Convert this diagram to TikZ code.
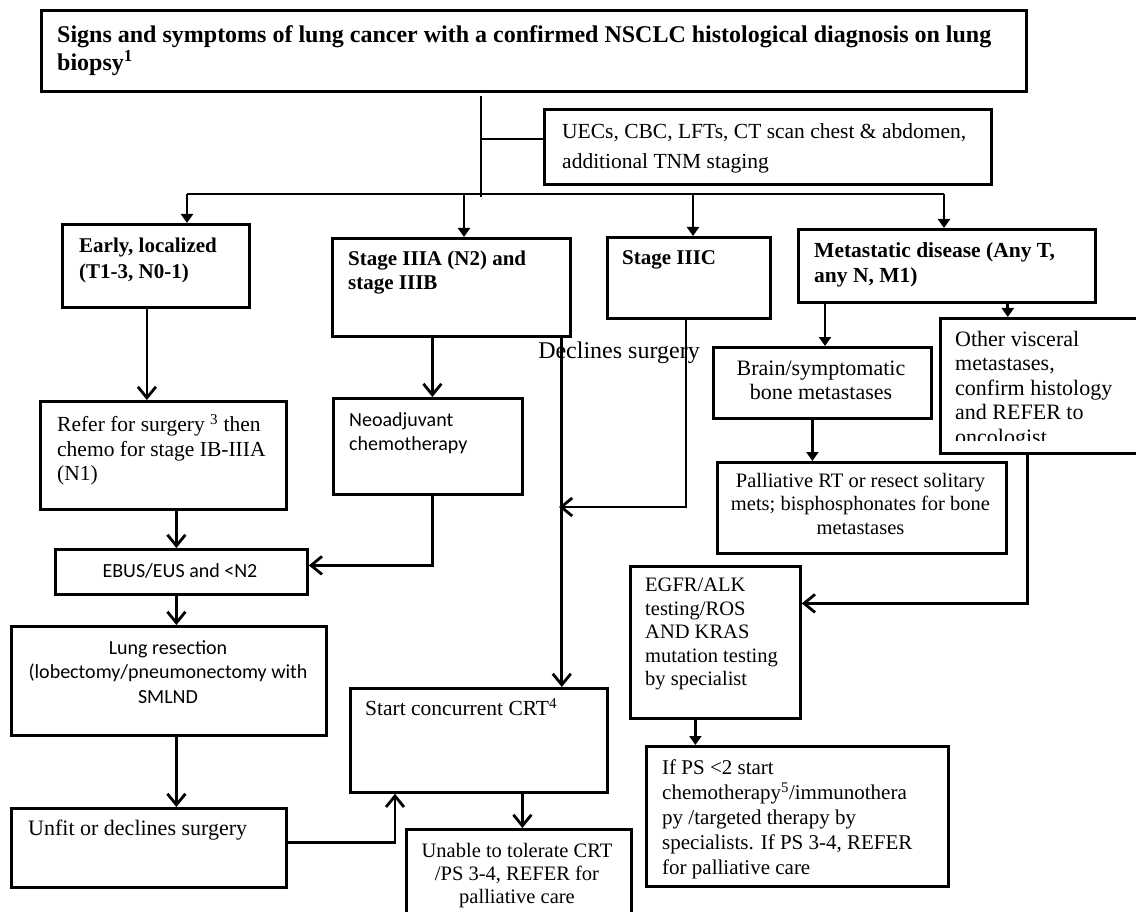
\documentclass[tikz,border=0pt]{standalone}
\usepackage{fontspec}
\setmainfont{Liberation Serif}
\newfontfamily\sansf{Carlito}
\usetikzlibrary{arrows.meta}
\tikzset{
  box/.style={draw, line width=2.8pt, inner sep=0pt, anchor=north west},
  ln/.style={line width=2.8pt},
  tri/.style={ln, -{Triangle[length=9pt,width=12pt]}},
  barb/.style={ln, -{Straight Barb[length=11pt,width=18pt]}},
  txt/.style={inner sep=0pt, anchor=north west, align=left},
  ctxt/.style={inner sep=0pt, anchor=north, align=center},
  ft/.style={font={\fontsize{24}{28}\selectfont\bfseries}},
  fb/.style={font={\fontsize{21}{25}\selectfont\bfseries}},
  fr/.style={font={\fontsize{21}{24.5}\selectfont}},
  fs/.style={font={\fontsize{20}{24.5}\selectfont\sansf}},
}
\begin{document}
\begin{tikzpicture}[x=1pt,y=-1pt]
\path[use as bounding box] (0,0) rectangle (1136,912);
\clip (0,0) rectangle (1136,912);

% boxes
\node[box, minimum width=985pt, minimum height=81pt] (title) at (40,9) {};
\node[box, minimum width=447pt, minimum height=75pt] (uec) at (543,108) {};
\node[box, minimum width=187pt, minimum height=83pt] (early) at (61,223) {};
\node[box, minimum width=238pt, minimum height=98pt] (s3a) at (331,237) {};
\node[box, minimum width=163pt, minimum height=81pt] (s3c) at (606,236) {};
\node[box, minimum width=297pt, minimum height=73pt] (met) at (797,228) {};
\node[box, minimum width=246pt, minimum height=108pt] (refer) at (39,400) {};
\node[box, minimum width=189pt, minimum height=96pt] (neo) at (332,397) {};
\node[box, minimum width=218pt, minimum height=71pt] (brain) at (712,346) {};
\node[box, minimum width=210pt, minimum height=135pt] (other) at (939,317) {};
\node[box, minimum width=289pt, minimum height=91pt] (pall) at (716,461) {};
\node[box, minimum width=252pt, minimum height=45pt] (ebus) at (54,548) {};
\node[box, minimum width=170pt, minimum height=152pt] (egfr) at (629,565) {};
\node[box, minimum width=315pt, minimum height=109pt] (lung) at (10,625) {};
\node[box, minimum width=257pt, minimum height=104pt] (crt) at (349,687) {};
\node[box, minimum width=302pt, minimum height=140pt] (ifps) at (645,745) {};
\node[box, minimum width=275pt, minimum height=79pt] (unfit) at (10,807) {};
\node[box, minimum width=225pt, minimum height=100pt] (unable) at (405,828) {};

% texts
\node[txt, ft] (titlet) at (57,25) {Signs and symptoms of lung cancer with a confirmed NSCLC histological diagnosis on lung\\biopsy\textsuperscript{1}};
\node[txt, font={\fontsize{21.5}{30}\selectfont}] (uect) at (562,123) {UECs, CBC, LFTs, CT scan chest \& abdomen,\\additional TNM staging};
\node[txt, font={\fontsize{21}{26}\selectfont\bfseries}] (earlyt) at (79,238) {Early, localized\\(T1-3, N0-1)};
\node[txt, font={\fontsize{21}{24}\selectfont\bfseries}] (s3at) at (348,251) {Stage IIIA (N2) and\\stage IIIB};
\node[txt, fb] (s3ct) at (622,250) {Stage IIIC};
\node[txt, font={\fontsize{21.5}{25}\selectfont\bfseries}] (mett) at (814,242) {Metastatic disease (Any T,\\any N, M1)};
\node[txt, font={\fontsize{21.5}{24.5}\selectfont}] (refert) at (57,414) {Refer for surgery \textsuperscript{3} then\\chemo for stage IB-IIIA\\(N1)};
\node[txt, font={\fontsize{20}{24}\selectfont\sansf}] (neot) at (349,412) {Neoadjuvant\\chemotherapy};
\node[inner sep=0pt, font={\fontsize{24}{27}\selectfont}] (declab) at (619,353) {Declines surgery};
\node[ctxt, font={\fontsize{22}{24}\selectfont}] (braint) at (821,361) {Brain/symptomatic\\bone metastases};
\begin{scope}
\clip (939,317) rectangle (1140,440);
\node[txt, font={\fontsize{22}{24.5}\selectfont}] (othert) at (955,331) {Other visceral\\metastases,\\confirm histology\\and REFER to\\oncologist};
\end{scope}
\node[ctxt, font={\fontsize{20.5}{23.5}\selectfont}] (pallt) at (860.5,473) {Palliative RT or resect solitary\\mets; bisphosphonates for bone\\metastases};
\node[inner sep=0pt, fs] (ebust) at (180,571) {EBUS/EUS and <N2};
\node[txt, font={\fontsize{20.5}{23.5}\selectfont}] (egfrt) at (645,578) {EGFR/ALK\\testing/ROS\\AND KRAS\\mutation testing\\by specialist};
\node[ctxt, fs] (lungt) at (168,640) {Lung resection\\(lobectomy/pneumonectomy with\\SMLND};
\node[txt, font={\fontsize{21.5}{24.5}\selectfont}] (crtt) at (365,698) {Start concurrent CRT\textsuperscript{4}};
\node[txt, font={\fontsize{21}{25}\selectfont}] (ifpst) at (662,760) {If PS <2 start\\chemotherapy\textsuperscript{5}/immunothera\\py /targeted therapy by\\specialists. If PS 3-4, REFER\\for palliative care};
\node[txt, font={\fontsize{22}{24.5}\selectfont}] (unfitt) at (28,820) {Unfit or declines surgery};
\node[ctxt, font={\fontsize{20.5}{23}\selectfont}] (unablet) at (517,843) {Unable to tolerate CRT\\/PS 3-4, REFER for\\palliative care};

% connectors
\coordinate (bus) at (481,194);
\coordinate (br) at (481,139);
\coordinate (bL) at (187,194);
\coordinate (b2) at (464,194);
\coordinate (b3) at (693,194);
\coordinate (bR) at (944,194);
\coordinate (dj) at (559,507);

\draw[ln] ([yshift=-3pt]title.south -| bus) -- ([yshift=-3pt]bus);
\draw[ln] (br) -- (br -| uec.west);
\draw[ln] (bL) -- (bR);
\draw[tri] (bL) -- (bL |- early.north);
\draw[tri] (b2) -- (b2 |- s3a.north);
\draw[tri] (b3) -- (b3 |- s3c.north);
\draw[tri] (bR) -- (bR |- met.north);

\draw[barb] ([xshift=-9pt]early.south) -- ([xshift=-9pt]early.south |- refer.north);
\draw[barb] ([xshift=4.5pt]neo.north |- s3a.south) -- ([xshift=4.5pt]neo.north);
\draw[barb] ([xshift=-10pt]s3a.south east) -- ([xshift=-10pt]s3a.south east |- crt.north);
\draw[barb] ([xshift=-3pt]s3c.south) |- (dj);
\draw[tri] ([xshift=28pt]met.south west) -- ([xshift=28pt]met.south west |- brain.north);
\draw[tri] ([xshift=-89pt]met.south east) -- ([xshift=-89pt]met.south east |- other.north);
\draw[tri] ([xshift=-10pt]brain.south) -- ([xshift=-10pt]brain.south |- pall.north);
\draw[barb] ([xshift=-18pt]other.south) |- ([yshift=39pt]egfr.east);
\draw[tri] ([xshift=-20pt]egfr.south) -- ([xshift=-20pt]egfr.south |- ifps.north);
\draw[barb] ([xshift=13pt]refer.south) -- ([xshift=13pt]refer.south |- ebus.north);
\draw[barb] ([xshift=4.5pt]neo.south) |- ([yshift=6.5pt]ebus.east);
\draw[barb] ([xshift=-5pt]ebus.south) -- ([xshift=-5pt]ebus.south |- lung.north);
\draw[barb] ([xshift=7.5pt]lung.south) -- ([xshift=7.5pt]lung.south |- unfit.north);
\draw[barb] ([yshift=5.5pt]unfit.east) -| ([xshift=46pt]crt.south west);
\draw[barb] ([xshift=43.5pt]crt.south) -- ([xshift=43.5pt]crt.south |- unable.north);
\end{tikzpicture}
\end{document}
